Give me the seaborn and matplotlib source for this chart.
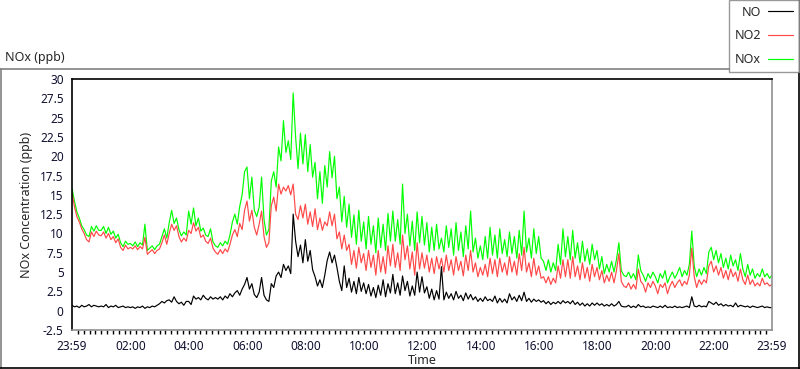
import matplotlib
matplotlib.use("Agg")
import matplotlib.pyplot as plt
from matplotlib.lines import Line2D
import numpy as np
import pandas as pd
import seaborn as sns

# 5-minute readings from 23:59 to 23:59 next day (289 samples)
minutes = np.arange(0, 1441, 5)

no2 = [
    15.3, 13.5, 12.2, 11.5, 10.6, 10.0, 9.2, 8.9, 10.2, 9.6, 10.3, 9.8,
    9.7, 10.2, 9.4, 10.0, 9.2, 9.6, 8.8, 9.3, 8.2, 7.8, 8.5, 8.0,
    8.2, 8.0, 8.4, 7.9, 8.3, 8.0, 9.5, 7.3, 7.6, 7.9, 7.4, 7.8,
    8.0, 8.8, 9.8, 8.6, 10.0, 11.2, 10.4, 11.0, 9.6, 8.9, 9.4, 9.0,
    10.4, 10.0, 11.4, 10.3, 10.8, 9.5, 9.8, 9.0, 8.7, 9.4, 8.1, 7.6,
    7.3, 7.9, 7.4, 8.0, 7.6, 8.6, 9.8, 10.5, 9.6, 11.3, 10.5, 13.0,
    14.2, 11.6, 13.0, 10.8, 9.8, 11.2, 12.9, 9.6, 8.2, 8.8, 13.6, 14.7,
    12.9, 16.4, 15.1, 16.0, 15.5, 16.2, 15.0, 16.4, 12.5, 11.8, 13.6, 12.0,
    13.8, 11.2, 12.8, 10.9, 13.2, 10.5, 12.0, 10.4, 11.5, 11.0, 12.8, 11.0,
    12.5, 9.3, 10.2, 8.0, 9.8, 7.8, 8.6, 6.0, 7.8, 5.5, 8.2, 6.2,
    7.4, 5.2, 7.8, 5.6, 7.2, 4.6, 7.8, 5.0, 7.0, 4.8, 8.4, 5.8,
    8.6, 5.6, 7.5, 5.2, 9.8, 6.6, 8.4, 5.4, 7.6, 4.6, 8.8, 5.4,
    7.5, 5.5, 7.2, 5.0, 6.8, 4.8, 7.0, 5.4, 6.8, 5.0, 7.2, 5.2,
    6.6, 4.6, 7.0, 5.2, 6.4, 4.5, 7.2, 5.2, 7.8, 5.0, 6.2, 4.4,
    5.6, 4.6, 6.0, 4.4, 6.8, 4.8, 6.6, 4.4, 6.8, 5.0, 6.2, 4.6,
    7.0, 5.0, 6.4, 4.6, 7.4, 5.2, 8.2, 5.0, 6.2, 4.4, 6.8, 4.6,
    5.8, 4.2, 4.4, 3.6, 4.4, 3.4, 4.2, 3.6, 5.8, 4.2, 6.6, 4.4,
    6.6, 4.2, 7.0, 4.4, 5.8, 4.0, 6.2, 4.2, 5.6, 3.8, 6.0, 4.4,
    5.6, 4.0, 5.2, 3.6, 4.6, 3.8, 5.0, 3.6, 5.2, 7.4, 3.8, 3.2,
    3.0, 3.6, 2.8, 3.4, 2.8, 5.4, 3.8, 3.4, 2.4, 3.6, 3.0, 3.8,
    3.2, 2.2, 3.4, 3.0, 3.6, 2.2, 3.2, 3.8, 3.0, 3.6, 4.0, 3.2,
    3.8, 3.4, 4.6, 8.1, 4.4, 3.0, 4.0, 3.4, 4.0, 3.6, 5.8, 6.4,
    5.0, 5.8, 4.6, 5.6, 4.2, 5.2, 4.0, 5.4, 4.4, 5.0, 3.8, 5.4,
    4.0, 3.4, 4.6, 3.4, 4.0, 3.2, 3.6, 3.2, 4.2, 3.4, 3.6, 3.2,
    3.4,
]

nox = [
    15.9, 14.2, 12.8, 12.0, 11.0, 10.5, 9.8, 9.6, 10.9, 10.3, 11.0, 10.4,
    10.4, 10.9, 10.0, 10.8, 9.9, 10.3, 9.4, 9.9, 8.8, 8.3, 9.0, 8.6,
    8.7, 8.4, 8.9, 8.3, 8.8, 8.5, 11.2, 7.8, 8.1, 8.4, 7.9, 8.4,
    8.6, 9.6, 10.6, 9.4, 11.4, 13.0, 11.3, 12.0, 10.5, 9.7, 10.2, 9.8,
    12.9, 11.2, 13.3, 11.0, 12.0, 10.3, 10.7, 9.8, 9.6, 10.6, 8.9, 8.4,
    8.2, 8.8, 8.4, 9.0, 8.6, 9.8, 11.5, 12.5, 11.2, 13.5, 15.0, 18.0,
    18.6, 14.5, 17.3, 13.0, 12.2, 13.4, 17.3, 11.8, 9.8, 10.5, 16.8, 18.0,
    16.0, 21.2, 19.4, 24.6, 20.5, 22.0, 19.6, 28.2, 22.5, 18.4, 23.0, 19.0,
    22.8, 18.0, 21.5, 17.3, 19.2, 14.5, 18.0, 13.9, 18.8, 16.0, 20.6, 17.2,
    20.0, 14.5, 16.0, 11.5, 14.8, 10.8, 13.8, 9.5, 12.4, 8.6, 13.0, 9.0,
    11.5, 8.0, 12.2, 8.6, 11.0, 7.5, 12.0, 8.2, 11.2, 7.8, 12.6, 9.0,
    12.9, 9.0, 11.8, 8.6, 16.4, 10.0, 12.5, 8.4, 11.6, 7.8, 12.8, 8.8,
    12.2, 8.5, 11.4, 7.6, 10.8, 7.8, 11.2, 8.0, 9.4, 7.6, 11.0, 8.2,
    10.6, 7.2, 11.4, 7.8, 10.2, 7.0, 11.0, 8.0, 12.9, 7.6, 9.4, 6.8,
    8.4, 6.6, 9.6, 6.8, 10.8, 7.2, 9.8, 6.8, 10.6, 7.4, 9.2, 7.0,
    10.2, 7.4, 9.6, 6.8, 10.4, 7.2, 12.9, 7.6, 9.4, 6.8, 10.6, 7.4,
    9.6, 6.8, 6.4, 5.2, 6.6, 5.0, 6.2, 5.2, 8.6, 6.0, 10.6, 7.0,
    9.6, 6.6, 10.4, 6.8, 8.8, 6.2, 9.0, 6.4, 8.0, 6.0, 8.6, 6.6,
    7.8, 5.4, 7.0, 4.8, 6.0, 5.0, 6.4, 5.0, 6.6, 8.8, 5.2, 4.6,
    4.4, 5.0, 4.2, 4.8, 4.0, 7.2, 5.2, 4.6, 3.8, 4.8, 4.2, 5.0,
    4.4, 3.6, 4.8, 4.2, 5.2, 3.6, 4.4, 5.0, 4.2, 4.8, 5.6, 4.4,
    5.2, 4.6, 6.0, 10.3, 5.8, 4.4, 5.4, 4.6, 5.6, 4.8, 7.6, 8.2,
    6.6, 7.8, 6.2, 7.4, 5.6, 6.8, 5.4, 7.2, 5.8, 6.6, 5.2, 7.4,
    5.4, 4.4, 6.0, 4.6, 5.4, 4.2, 4.8, 4.4, 5.4, 4.4, 4.8, 4.2,
    4.6,
]

no = [
    0.7, 0.5, 0.6, 0.4, 0.7, 0.5, 0.6, 0.8, 0.5, 0.7, 0.6, 0.5,
    0.6, 0.5, 0.8, 0.4, 0.6, 0.5, 0.7, 0.4, 0.5, 0.6, 0.4, 0.5,
    0.4, 0.5, 0.3, 0.5, 0.4, 0.6, 0.3, 0.5, 0.4, 0.6, 0.5, 0.7,
    0.9, 1.2, 1.0, 1.3, 1.4, 1.1, 1.8, 1.2, 0.9, 1.1, 0.7, 1.2,
    1.2, 0.8, 1.9, 1.5, 1.7, 1.4, 2.0, 1.6, 1.4, 1.8, 1.5, 1.7,
    1.5, 1.8, 1.4, 1.9, 1.6, 2.2, 1.8, 2.3, 2.6, 2.0, 2.8, 3.4,
    4.3, 2.8, 3.5, 2.1, 1.7, 2.4, 4.3, 2.0, 1.4, 1.2, 3.5, 3.0,
    4.5, 5.0, 4.3, 6.0, 5.2, 5.8, 4.8, 12.5, 9.0, 7.0, 8.5, 6.2,
    9.2, 6.4, 7.8, 5.3, 4.4, 3.2, 4.0, 3.0, 4.6, 6.5, 7.6, 6.2,
    7.2, 5.6, 3.8, 2.6, 5.8, 3.0, 4.2, 2.4, 3.8, 2.2, 4.3, 2.5,
    3.6, 2.2, 3.4, 1.9, 3.0, 1.7, 3.3, 2.0, 4.0, 1.8, 3.5, 2.3,
    4.7, 2.2, 3.6, 2.0, 4.5, 2.6, 3.8, 1.9, 3.2, 2.0, 5.0, 2.4,
    4.4, 2.3, 3.1, 1.6, 2.8, 1.4, 2.6, 1.5, 5.7, 1.4, 2.4, 1.6,
    2.2, 1.4, 2.5, 1.6, 2.0, 1.3, 2.3, 1.5, 2.1, 1.4, 1.8, 1.2,
    1.6, 1.2, 1.8, 1.3, 1.5, 1.2, 1.9, 1.0, 1.6, 1.1, 1.5, 1.0,
    2.2, 1.4, 1.8, 1.2, 2.0, 1.3, 2.4, 1.2, 1.6, 1.1, 1.5, 1.2,
    1.4, 1.1, 1.3, 0.9, 1.2, 0.8, 1.1, 0.9, 1.2, 0.9, 1.3, 1.0,
    1.2, 0.9, 1.3, 0.8, 1.1, 0.7, 1.0, 0.6, 0.9, 0.6, 1.0, 0.7,
    1.0, 0.7, 0.9, 0.6, 0.8, 0.6, 0.9, 0.6, 0.8, 1.2, 0.6, 0.5,
    0.5, 0.7, 0.4, 0.6, 0.4, 0.8, 0.5, 0.6, 0.4, 0.5, 0.4, 0.6,
    0.5, 0.4, 0.6, 0.4, 0.7, 0.4, 0.5, 0.4, 0.6, 0.4, 0.5, 0.4,
    0.5, 0.6, 0.4, 1.8, 0.6, 0.5, 0.7, 0.5, 0.6, 0.5, 1.2, 1.0,
    0.8, 1.1, 0.7, 0.9, 0.6, 0.8, 0.6, 0.7, 0.5, 1.0, 0.5, 0.7,
    0.6, 0.5, 0.6, 0.4, 0.6, 0.5, 0.4, 0.5, 0.6, 0.4, 0.5, 0.4,
    0.4,
]

tick_minutes = [0, 121, 241, 361, 481, 601, 721, 841, 961, 1081, 1201, 1321, 1440]
tick_labels = ["23:59", "02:00", "04:00", "06:00", "08:00", "10:00", "12:00",
               "14:00", "16:00", "18:00", "20:00", "22:00", "23:59"]
y_ticks = np.arange(-2.5, 30.1, 2.5)

df = pd.DataFrame({"minute": minutes, "NO": no, "NO2": no2, "NOx": nox})

sns.set_theme(style="white")
plt.rcParams["font.family"] = ["Noto Sans", "DejaVu Sans"]
plt.rcParams["font.size"] = 8.5

W, H = 800, 369
fig = plt.figure(figsize=(W / 100, H / 100), dpi=100)
ax = fig.add_axes([72 / W, 1 - 330 / H, 700 / W, 251 / H])

sns.lineplot(data=df, x="minute", y="NOx", color="#00ff00", lw=0.85, ax=ax, label="NOx")
sns.lineplot(data=df, x="minute", y="NO2", color="#ff4848", lw=0.85, ax=ax, label="NO2")
sns.lineplot(data=df, x="minute", y="NO", color="black", lw=0.85, ax=ax, label="NO")

ax.set_xlim(0, 1440)
ax.set_ylim(-2.5, 30)
ax.set_yticks(y_ticks)
ax.set_yticklabels([f"{v:g}" for v in y_ticks])
ax.set_xticks(tick_minutes)
ax.set_xticklabels(tick_labels)
ax.set_xticks(np.arange(0, 1441, 12), minor=True)
ax.tick_params(axis="both", which="major", direction="out", length=4, width=1,
               color="black", labelsize=8.5, labelcolor="#101030", pad=2)
ax.tick_params(axis="x", which="major", length=5, width=2)
ax.tick_params(axis="x", which="minor", direction="out", length=3, width=1,
               color="black", bottom=True)
ax.set_xlabel("Time", fontsize=9, labelpad=1)
ax.set_ylabel("NOx Concentration (ppb)", fontsize=9, labelpad=5)

for side in ["left", "top"]:
    ax.spines[side].set_color("black")
    ax.spines[side].set_linewidth(1.2)
for side in ["right", "bottom"]:
    ax.spines[side].set_color("#909090")
    ax.spines[side].set_linewidth(1.2)

handles, labels = ax.get_legend_handles_labels()
ax.get_legend().remove()
order = [labels.index(n) for n in ["NO", "NO2", "NOx"]]
leg = fig.legend([handles[i] for i in order], [labels[i] for i in order],
                 loc="upper right", bbox_to_anchor=(799 / W, 1.0),
                 markerfirst=False, frameon=True, fancybox=False,
                 edgecolor="#808080", fontsize=9, handlelength=2.0,
                 labelspacing=0.85, borderpad=0.45, handletextpad=0.6,
                 borderaxespad=0.0)
leg.get_frame().set_linewidth(1)

# outer panel frame
fig.add_artist(Line2D([0, 730 / W], [1 - 69 / H] * 2, color="#808080", lw=1.2))
fig.add_artist(Line2D([0.5 / W] * 2, [1 - 69 / H, 1 - 368 / H], color="#808080", lw=1.2))
fig.add_artist(Line2D([0, 1], [1 - 368 / H] * 2, color="black", lw=1.2))
fig.add_artist(Line2D([799 / W] * 2, [0, 1], color="black", lw=1.2))

fig.text(5 / W, 1 - 58 / H, "NOx (ppb)", fontsize=9, va="center", ha="left")

fig.savefig("out.png", dpi=100)
